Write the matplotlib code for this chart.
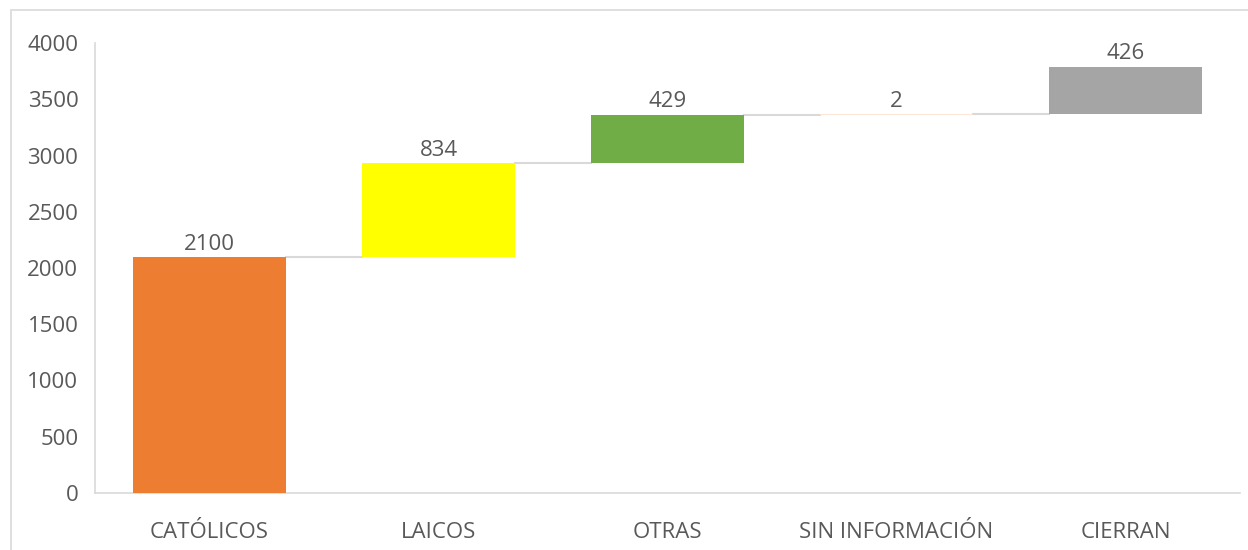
import matplotlib.pyplot as plt
from matplotlib.patches import Rectangle
import numpy as np

categories = ['CATÓLICOS', 'LAICOS', 'OTRAS', 'SIN INFORMACIÓN', 'CIERRAN']
values = [2100, 834, 429, 2, 426]
colors = ['#ED7D31', '#FFFF00', '#70AD47', '#FBE5D6', '#A5A5A5']

plt.rcParams['font.family'] = ['Open Sans', 'DejaVu Sans']

bottoms = np.concatenate([[0], np.cumsum(values)[:-1]])
tops = bottoms + np.array(values)
x = np.arange(len(categories))
w = 0.667

fig = plt.figure(figsize=(12.48, 5.5), dpi=100)
ax = fig.add_axes([95 / 1248, 1 - 493 / 550, 1145 / 1248, 450 / 550])

ax.bar(x, values, bottom=bottoms, width=w, color=colors, zorder=3)

# connector lines between bars
for i in range(len(categories) - 1):
    ax.plot([x[i] + w / 2, x[i + 1] - w / 2], [tops[i], tops[i]],
            color='#d9d9d9', lw=1.5, zorder=2)

for i, v in enumerate(values):
    ax.text(x[i], tops[i] + 20, str(v), ha='center', va='bottom',
            fontsize=16, color='#595959')

ax.set_xlim(-0.5, len(categories) - 0.5)
ax.set_ylim(0, 4000)
ax.set_yticks(range(0, 4001, 500))
ax.set_xticks(x)
ax.set_xticklabels(categories)
ax.tick_params(axis='both', length=0, labelsize=16, labelcolor='#595959')
ax.tick_params(axis='y', pad=12)
ax.tick_params(axis='x', pad=21)
for s in ['top', 'right']:
    ax.spines[s].set_visible(False)
for s in ['left', 'bottom']:
    ax.spines[s].set_color('#d9d9d9')
    ax.spines[s].set_linewidth(1.2)

# outer chart frame
fig.patches.append(Rectangle((11 / 1248, -0.1), 1.2, 1 - 10 / 550 + 0.1,
                             transform=fig.transFigure, fill=False,
                             edgecolor='#d9d9d9', lw=1.2))

fig.savefig('out.png', dpi=100)
